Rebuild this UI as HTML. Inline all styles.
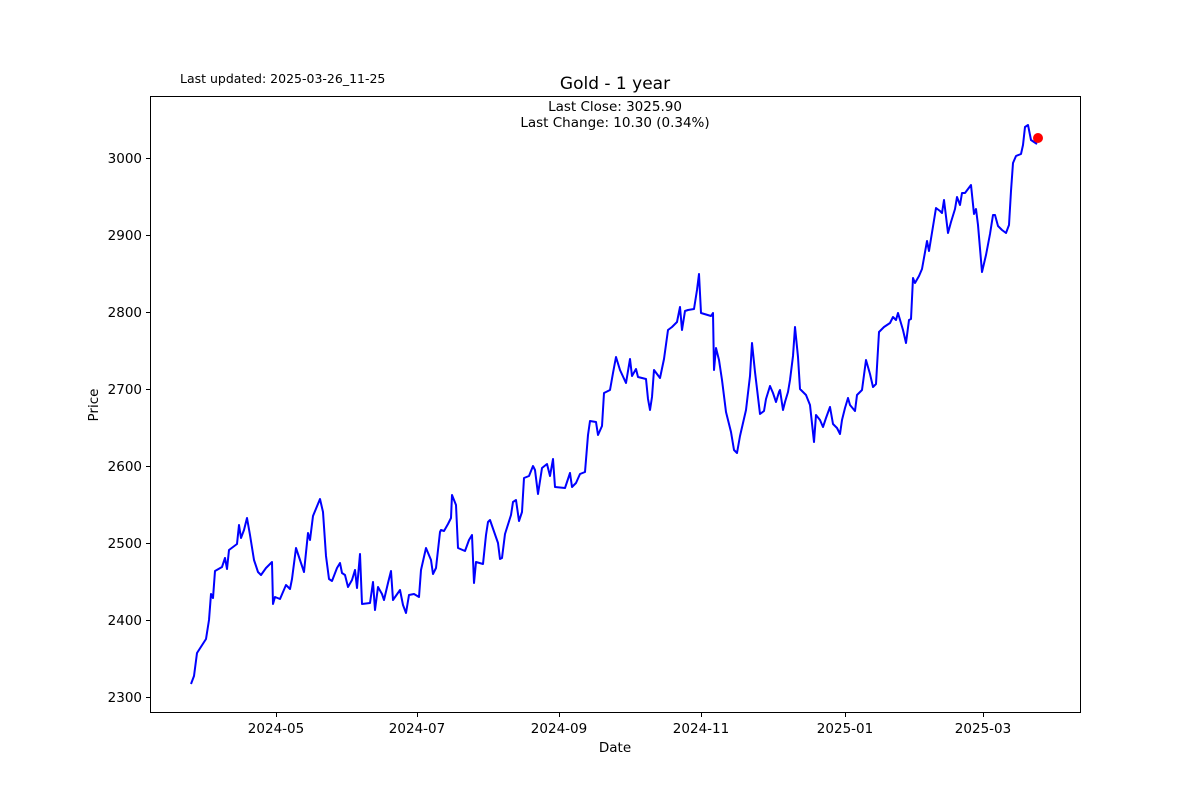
<!DOCTYPE html>
<html><head><meta charset="utf-8"><style>
html,body{margin:0;padding:0;background:#fff;}
svg text{font-family:"DejaVu Sans","Liberation Sans",sans-serif;fill:#000;}
</style></head><body>
<svg width="1200" height="800" viewBox="0 0 1200 800" xmlns="http://www.w3.org/2000/svg">
<rect width="1200" height="800" fill="#fff"/>
<text x="180" y="83" font-size="12.5">Last updated: 2025-03-26_11-25</text>
<text x="615" y="89" font-size="17" text-anchor="middle">Gold - 1 year</text>
<text x="615" y="111" font-size="13.5" text-anchor="middle">Last Close: 3025.90</text>
<text x="615" y="127" font-size="13.5" text-anchor="middle">Last Change: 10.30 (0.34%)</text>
<rect x="150.5" y="96.5" width="930" height="616" fill="none" stroke="#000" stroke-width="1"/>
<g stroke="#000" stroke-width="1">
<line x1="146" x2="150" y1="158.5" y2="158.5"/><line x1="146" x2="150" y1="235.5" y2="235.5"/>
<line x1="146" x2="150" y1="312.5" y2="312.5"/><line x1="146" x2="150" y1="389.5" y2="389.5"/>
<line x1="146" x2="150" y1="466.5" y2="466.5"/><line x1="146" x2="150" y1="543.5" y2="543.5"/>
<line x1="146" x2="150" y1="620.5" y2="620.5"/><line x1="146" x2="150" y1="697.5" y2="697.5"/>
<line x1="276.5" x2="276.5" y1="713" y2="717"/><line x1="417.5" x2="417.5" y1="713" y2="717"/>
<line x1="559.5" x2="559.5" y1="713" y2="717"/><line x1="701.5" x2="701.5" y1="713" y2="717"/>
<line x1="845.5" x2="845.5" y1="713" y2="717"/><line x1="983.5" x2="983.5" y1="713" y2="717"/>
</g>
<g font-size="13.5" text-anchor="end">
<text x="142" y="163">3000</text><text x="142" y="240">2900</text><text x="142" y="317">2800</text>
<text x="142" y="394">2700</text><text x="142" y="471">2600</text><text x="142" y="548">2500</text>
<text x="142" y="625">2400</text><text x="142" y="702">2300</text>
</g>
<g font-size="13.5" text-anchor="middle">
<text x="276" y="733">2024-05</text><text x="417" y="733">2024-07</text><text x="559" y="733">2024-09</text>
<text x="701" y="733">2024-11</text><text x="845" y="733">2025-01</text><text x="983" y="733">2025-03</text>
<text x="615" y="752">Date</text>
</g>
<text x="98" y="405" font-size="13.5" text-anchor="middle" transform="rotate(-90 98 405)">Price</text>
<polyline fill="none" stroke="#0000ff" stroke-width="2" stroke-linejoin="round" points="191,684 194,676 197,653 206,639 209,620 211,594 213,598 215,571 222,567 225,558 227,569 229,550 237,544 239,525 241,538 244,530 247,518 250,535 254,560 258,572 261,575 266,568 272,562 273,604 275,597 280,599 286,585 290,589 292,579 296,548 300,560 304,572 308,533 310,540 313,516 320,499 323,512 326,556 329,579 332,581 337,568 340,563 342,573 345,575 348,587 352,580 355,570 357,588 360,554 362,604 370,603 373,582 375,610 378,587 382,594 384,600 388,583 391,571 393,600 400,590 403,605 406,613 409,595 414,594 419,597 421,570 426,548 431,560 433,574 436,568 440,532 441,530 444,531 448,524 451,518 452,495 456,505 458,548 465,551 469,540 472,535 474,583 476,562 483,564 486,535 488,522 490,520 498,543 500,559 502,558 505,534 511,515 513,502 516,500 519,521 522,512 524,478 529,476 533,466 535,470 538,494 542,468 547,464 550,476 553,459 555,487 565,488 570,473 572,487 576,483 580,474 585,472 588,435 590,421 596,422 598,435 602,426 604,393 610,390 613,373 616,357 620,370 626,383 630,359 632,376 636,369 638,377 646,379 648,399 650,410 652,397 654,370 660,378 664,359 668,330 672,327 677,322 680,307 682,330 685,311 688,310 694,309 697,290 699,274 701,313 711,316 713,313 714,370 716,348 719,360 722,380 726,412 728,420 731,432 734,450 737,453 740,436 746,410 750,376 752,343 755,372 760,414 764,411 766,399 770,386 773,393 776,402 779,392 780,390 783,410 785,402 788,392 790,380 793,356 795,327 798,357 800,389 806,395 810,405 814,442 816,415 820,420 823,427 826,418 830,407 833,424 837,428 840,434 842,420 845,408 848,398 850,405 855,411 857,395 862,390 866,360 870,374 873,387 876,384 879,332 884,327 890,323 893,317 896,320 898,313 903,330 906,343 909,320 911,319 913,278 915,283 919,276 922,269 927,241 929,251 936,208 940,211 942,213 944,200 948,233 951,222 955,209 957,197 960,205 962,193 965,193 971,185 974,214 976,209 978,225 982,272 986,255 990,234 993,215 995,215 998,226 1002,230 1006,233 1009,225 1011,191 1013,163 1016,156 1021,154 1023,145 1025,127 1028,125 1031,140 1037,144"/>
<circle cx="1038" cy="138" r="5" fill="#ff0000"/>
</svg>
</body></html>
